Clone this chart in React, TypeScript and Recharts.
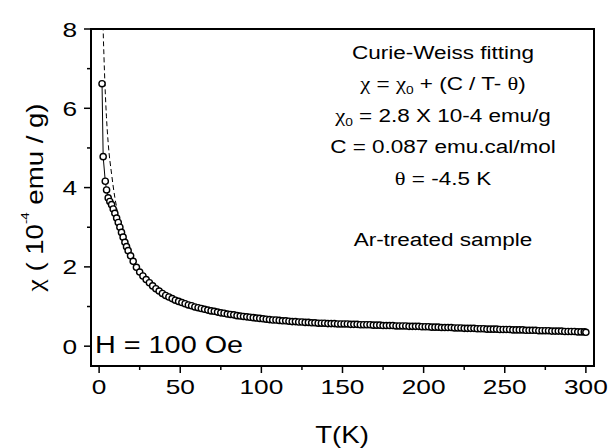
import React from "react";
import { LineChart, Line, XAxis, YAxis } from "recharts";

// Measured susceptibility (10^-4 emu/g) vs temperature (K)
const lowT = [1.8, 2.5, 3.8, 4.6, 5.6, 6.6, 7.7, 8.7, 9.7, 10.8, 11.8, 12.8, 13.8, 14.8, 15.9, 16.9, 17.9, 19.4];
const lowChi = [6.62, 4.78, 4.16, 3.94, 3.74, 3.65, 3.57, 3.46, 3.35, 3.23, 3.12, 3.0, 2.87, 2.75, 2.62, 2.51, 2.41, 2.28];

const tempK = [
  21, 23, 25, 27, 29, 31, 33, 35, 37, 39,
  41, 43, 45, 47, 49, 51, 53, 55, 57, 59,
  61, 63, 65, 67, 69, 71, 73, 75, 77, 79,
  81, 83, 85, 87, 89, 91, 93, 95, 97, 99,
  101, 103, 105, 107, 109, 111, 113, 115, 117, 119,
  121, 123, 125, 127, 129, 131, 133, 135, 137, 139,
  141, 143, 145, 147, 149, 151, 153, 155, 157, 159,
  161, 163, 165, 167, 169, 171, 173, 175, 177, 179,
  181, 183, 185, 187, 189, 191, 193, 195, 197, 199,
  201, 203, 205, 207, 209, 211, 213, 215, 217, 219,
  221, 223, 225, 227, 229, 231, 233, 235, 237, 239,
  241, 243, 245, 247, 249, 251, 253, 255, 257, 259,
  261, 263, 265, 267, 269, 271, 273, 275, 277, 279,
  281, 283, 285, 287, 289, 291, 293, 295, 297, 299,
  300,
];
const chiValues = [
  2.14, 1.99, 1.87, 1.77, 1.68, 1.6, 1.52, 1.45, 1.39, 1.33,
  1.28, 1.24, 1.2, 1.16, 1.13, 1.1, 1.07, 1.04, 1.02, 0.99,
  0.97, 0.95, 0.93, 0.91, 0.89, 0.88, 0.86, 0.84, 0.83, 0.81,
  0.8, 0.79, 0.77, 0.76, 0.75, 0.74, 0.73, 0.72, 0.71, 0.7,
  0.69, 0.68, 0.67, 0.66, 0.66, 0.65, 0.64, 0.64, 0.63, 0.62,
  0.62, 0.61, 0.61, 0.6, 0.6, 0.59, 0.59, 0.58, 0.58, 0.58,
  0.57, 0.57, 0.57, 0.56, 0.56, 0.56, 0.56, 0.55, 0.55, 0.55,
  0.54, 0.54, 0.54, 0.54, 0.53, 0.53, 0.53, 0.52, 0.52, 0.52,
  0.52, 0.51, 0.51, 0.51, 0.51, 0.5, 0.5, 0.5, 0.5, 0.49,
  0.49, 0.49, 0.48, 0.48, 0.48, 0.47, 0.47, 0.47, 0.47, 0.46,
  0.46, 0.46, 0.45, 0.45, 0.45, 0.45, 0.44, 0.44, 0.44, 0.43,
  0.43, 0.43, 0.43, 0.42, 0.42, 0.42, 0.42, 0.41, 0.41, 0.41,
  0.41, 0.4, 0.4, 0.4, 0.4, 0.39, 0.39, 0.39, 0.39, 0.38,
  0.38, 0.38, 0.38, 0.37, 0.37, 0.37, 0.37, 0.36, 0.36, 0.36,
  0.35,
];

// Curie-Weiss fit curve (dashed)
const fitT = [2.2, 2.5, 3.0, 3.6, 4.5, 5.6, 7.7, 9.7, 10.8, 12, 14, 17, 20, 25, 30, 40, 50, 70, 100, 150, 200, 250, 300];
const fitChi = [8.7, 8.0, 7.3, 6.6, 5.8, 5.12, 4.34, 3.75, 3.5, 3.2, 2.88, 2.5, 2.22, 1.87, 1.63, 1.31, 1.1, 0.87, 0.69, 0.56, 0.49, 0.42, 0.36];

const xTicks = [0, 25, 50, 75, 100, 125, 150, 175, 200, 225, 250, 275, 300];
const yTicks = [0, 1, 2, 3, 4, 5, 6, 7, 8];
const xDomain = [-5, 305];
const yDomain = [-0.5, 8];

const annotationLines = [
  "Curie-Weiss fitting",
  "C = 0.087 emu.cal/mol",
  "θ = -4.5 K",
  "Ar-treated sample",
];

const allT = [...lowT, ...tempK];
const allChi = [...lowChi, ...chiValues];
const dataPts = allT.map((T, i) => ({ T, chi: allChi[i] }));
const fitPts = fitT.map((T, i) => ({ T, chi: fitChi[i] }));

const SANS = "'Liberation Sans', Arial, Helvetica, sans-serif";
const SERIF = "'Liberation Serif', 'Times New Roman', serif";

// chart layout
const W = 612;
const H = 448;
const MARGIN = { top: 29, right: 18, left: 0, bottom: 0 };
const Y_AXIS_W = 91;
const X_AXIS_H = 82;
const plotLeft = MARGIN.left + Y_AXIS_W;
const plotRight = W - MARGIN.right;
const plotTop = MARGIN.top;
const plotBottom = H - MARGIN.bottom - X_AXIS_H;

const XTick = (props: any) => {
  const { x, y, payload } = props;
  const v = payload.value;
  const major = v % 50 === 0;
  return (
    <g>
      <line x1={x} x2={x} y1={y} y2={y + (major ? 7 : 4)} stroke="#000" strokeWidth={1.5} />
      {major && (
        <text
          transform={`translate(${x},${y + 28.3}) scale(1.25,1)`}
          textAnchor="middle"
          fontSize={21}
          fontFamily={SANS}
          fill="#000"
        >
          {v}
        </text>
      )}
    </g>
  );
};

const YTick = (props: any) => {
  const { x, y, payload } = props;
  const v = payload.value;
  const major = v % 2 === 0;
  return (
    <g>
      <line x1={x - (major ? 7 : 4)} x2={x} y1={y} y2={y} stroke="#000" strokeWidth={1.5} />
      {major && (
        <text
          transform={`translate(${x - 14},${y + 7.5}) scale(1.25,1)`}
          textAnchor="end"
          fontSize={21}
          fontFamily={SANS}
          fill="#000"
        >
          {v}
        </text>
      )}
    </g>
  );
};

const ann = (x: number, y: number) => `translate(${x},${y}) scale(1.25,1)`;

export default function App() {
  return (
    <div style={{ position: "absolute", left: 0, top: 0, width: W, height: H, background: "#fff" }}>
      <LineChart width={W} height={H} margin={MARGIN} data={dataPts}>
        <XAxis
          dataKey="T"
          type="number"
          domain={xDomain}
          allowDataOverflow
          ticks={xTicks}
          interval={0}
          height={X_AXIS_H}
          tickSize={0}
          tickMargin={0}
          tickLine={false}
          axisLine={{ stroke: "#000", strokeWidth: 2 }}
          tick={<XTick />}
        />
        <YAxis
          type="number"
          domain={yDomain}
          allowDataOverflow
          ticks={yTicks}
          interval={0}
          width={Y_AXIS_W}
          tickSize={0}
          tickMargin={0}
          tickLine={false}
          axisLine={{ stroke: "#000", strokeWidth: 2 }}
          tick={<YTick />}
        />
        <Line
          data={fitPts}
          dataKey="chi"
          type="monotone"
          stroke="#000"
          strokeWidth={1}
          strokeDasharray="5 3"
          dot={false}
          isAnimationActive={false}
        />
        <Line
          dataKey="chi"
          type="linear"
          stroke="#000"
          strokeWidth={1}
          dot={{ r: 3.1, fill: "#fff", stroke: "#000", strokeWidth: 1.4 }}
          isAnimationActive={false}
        />
      </LineChart>
      <div
        style={{
          position: "absolute",
          left: plotLeft - 1,
          top: plotTop - 1,
          width: plotRight - plotLeft + 2,
          height: plotBottom - plotTop + 2,
          border: "2px solid #000",
          boxSizing: "border-box",
          pointerEvents: "none",
        }}
      />
      <svg
        width={W}
        height={H}
        style={{ position: "absolute", left: 0, top: 0, pointerEvents: "none" }}
      >
        <g fontFamily={SANS} fill="#000" fontSize={18}>
          <text transform={ann(443, 58.5)} textAnchor="middle">{annotationLines[0]}</text>
          <text transform={ann(443, 90)} textAnchor="middle">
            <tspan fontFamily={SERIF}>χ</tspan>
            <tspan> = </tspan>
            <tspan fontFamily={SERIF}>χ</tspan>
            <tspan fontSize={11} dy={4}>0</tspan>
            <tspan dy={-4}> + (C / T- </tspan>
            <tspan fontFamily={SERIF}>θ</tspan>
            <tspan>)</tspan>
          </text>
          <text transform={ann(443, 121.5)} textAnchor="middle">
            <tspan fontFamily={SERIF}>χ</tspan>
            <tspan fontSize={11} dy={4}>0</tspan>
            <tspan dy={-4}> = 2.8 X 10-4 emu/g</tspan>
          </text>
          <text transform={ann(443, 153)} textAnchor="middle">{annotationLines[1]}</text>
          <text transform={ann(443, 184.5)} textAnchor="middle">
            <tspan fontFamily={SERIF}>θ</tspan>
            <tspan> = -4.5 K</tspan>
          </text>
          <text transform={ann(443, 246)} textAnchor="middle">{annotationLines[3]}</text>
        </g>
        <text
          transform="translate(95,353.3) scale(1.2,1)"
          fontFamily={SANS}
          fontSize={24}
          fill="#000"
        >
          H = 100 Oe
        </text>
        <text
          transform="translate(342,443) scale(1.2,1)"
          textAnchor="middle"
          fontFamily={SANS}
          fontSize={23}
          fill="#000"
        >
          T(K)
        </text>
        <text
          transform="translate(43,197.5) rotate(-90) scale(1.2,1)"
          textAnchor="middle"
          fontFamily={SANS}
          fontSize={23}
          fill="#000"
        >
          <tspan fontFamily={SERIF}>χ</tspan>
          <tspan> ( 10</tspan>
          <tspan fontSize={11} dy={-14}>-4</tspan>
          <tspan dy={14}> emu / g)</tspan>
        </text>
      </svg>
    </div>
  );
}
